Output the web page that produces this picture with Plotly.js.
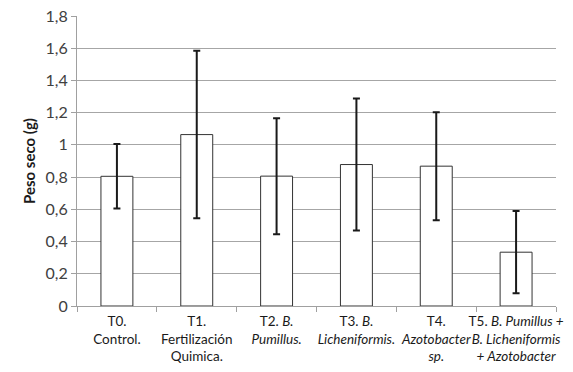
<!DOCTYPE html>
<html>
<head>
<meta charset="utf-8">
<script src="https://cdn.plot.ly/plotly-3.0.1.min.js"></script>
<style>html,body{margin:0;padding:0;background:#fff;}#chart{width:573px;height:372px;}</style>
</head>
<body>
<div id="chart"></div>
<script>
var categories = [
  "T0.<br>Control.",
  "T1.<br>Fertilización<br>Quimica.",
  "T2. <i>B.</i><br><i>Pumillus.</i>",
  "T3. <i>B.</i><br><i>Licheniformis.</i>",
  "T4.<br><i>Azotobacter</i><br><i>sp.</i>",
  "T5. <i>B. Pumillus +</i><br><i>B. Licheniformis</i><br><i>+ Azotobacter</i>"
];
var pesoSeco = [0.805, 1.064, 0.806, 0.878, 0.868, 0.334];
var errorSD = [0.20, 0.52, 0.36, 0.41, 0.335, 0.255];
var yTickVals = [0, 0.2, 0.4, 0.6, 0.8, 1, 1.2, 1.4, 1.6, 1.8];
var yTickText = ["0", "0,2", "0,4", "0,6", "0,8", "1", "1,2", "1,4", "1,6", "1,8"];

var font = "Lato, Carlito, Calibri, sans-serif";

var trace = {
  type: "bar",
  x: categories,
  y: pesoSeco,
  width: 0.4,
  marker: {color: "#ffffff", line: {color: "#333333", width: 1}},
  error_y: {type: "data", array: errorSD, visible: true, color: "#1a1a1a", thickness: 2, width: 3.5}
};

var layout = {
  width: 573, height: 372,
  margin: {l: 77, r: 17, t: 16, b: 66},
  paper_bgcolor: "#ffffff", plot_bgcolor: "#ffffff",
  showlegend: false,
  font: {family: font, size: 14, color: "#1a1a1a"},
  xaxis: {
    type: "category",
    tickson: "boundaries",
    ticks: "outside", ticklen: 5, tickcolor: "#a0a0a0",
    showline: true, linecolor: "#a0a0a0", linewidth: 1,
    showgrid: false,
    tickangle: 0,
    ticklabelstandoff: 3,
    tickfont: {family: font, size: 13.5, color: "#1a1a1a"}
  },
  yaxis: {
    range: [0, 1.8],
    tickvals: yTickVals, ticktext: yTickText,
    showgrid: true, gridcolor: "#a6a6a6", gridwidth: 1,
    showline: true, linecolor: "#a0a0a0", linewidth: 1,
    ticks: "outside", ticklen: 5, tickcolor: "#a0a0a0",
    zeroline: false,
    tickfont: {family: font, size: 16, color: "#404040"},
    title: {text: "<b>Peso seco (g)</b>", font: {family: font, size: 15, color: "#1a1a1a"}, standoff: 6}
  },
  bargap: 0.6
};

Plotly.newPlot("chart", [trace], layout, {displayModeBar: false, staticPlot: true});
</script>
</body>
</html>
